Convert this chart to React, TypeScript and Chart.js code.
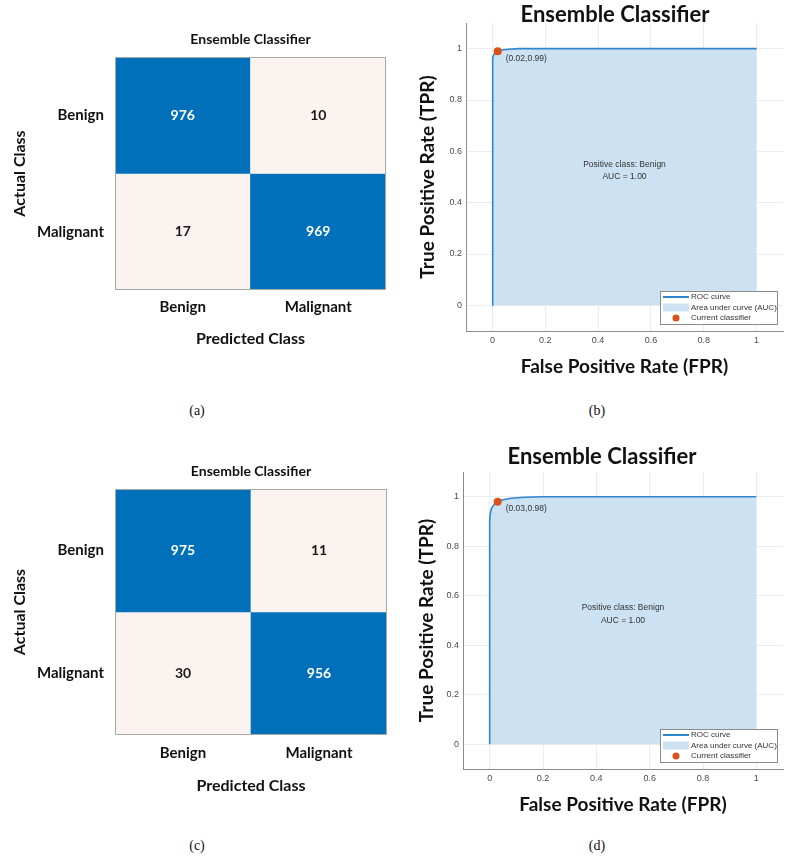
import React, { useEffect, useRef } from "react";
import { Chart, registerables } from "chart.js";

Chart.register(...registerables);

// ---------------- data ----------------
const CLASSES = ["Benign", "Malignant"];
// rows = actual class, columns = predicted class
const CM_A = [
  [976, 10],
  [17, 969],
];
const CM_C = [
  [975, 11],
  [30, 956],
];

const ROC_B_FPR = [0, 0, 0.002, 0.006, 0.012, 0.02, 0.035, 0.06, 0.1, 1];
const ROC_B_TPR = [0, 0.94, 0.965, 0.978, 0.986, 0.99, 0.995, 0.998, 1, 1];
const OP_B = { fpr: 0.02, tpr: 0.99 };
const AUC_B = 1.0;

const ROC_D_FPR = [0, 0, 0.002, 0.006, 0.012, 0.02, 0.03, 0.05, 0.08, 0.13, 0.2, 1];
const ROC_D_TPR = [0, 0.9, 0.93, 0.95, 0.962, 0.972, 0.98, 0.988, 0.994, 0.998, 1, 1];
const OP_D = { fpr: 0.03, tpr: 0.98 };
const AUC_D = 1.0;

const AXIS_TICKS = [0, 0.2, 0.4, 0.6, 0.8, 1];
const POSITIVE_CLASS = "Benign";
const CHART_TITLE = "Ensemble Classifier";
const CAPTIONS = ["(a)", "(b)", "(c)", "(d)"];

// ---------------- styles ----------------
const BOLD = "Lato, 'Open Sans', sans-serif";
const HELV = "'Liberation Sans', Arial, sans-serif";
const BLUE = "#0070BA";
const LIGHT = "#FAF3F0";
const CURVE = "#2F86CF";
const AREA = "#CCE2F2";
const ORANGE = "#D95319";

type CMLayout = {
  left: number; top: number; width: number; height: number;
  padRight: number; yWidth: number; xHeight: number;
  titlePadTop: number; titlePadBottom: number;
  xTitlePad: number; yTitlePad: number; xTickPad: number; yTickPad: number;
};

type RocLayout = {
  left: number; top: number; width: number; height: number;
  padLeft: number; padRight: number; yWidth: number; xHeight: number;
  titlePadTop: number; titlePadBottom: number;
  xTitlePad: number; yTitlePad: number; xTickPad: number; yTickPad: number;
};

const cellTextPlugin = {
  id: "cellText",
  afterDatasetsDraw(chart: any) {
    const ctx = chart.ctx;
    ctx.save();
    ctx.font = `bold 14px ${BOLD}`;
    ctx.textAlign = "center";
    ctx.textBaseline = "middle";
    chart.data.datasets.forEach((ds: any, i: number) => {
      const meta = chart.getDatasetMeta(i);
      meta.data.forEach((el: any, j: number) => {
        const p = el.getProps(["x", "y", "base"], true);
        ctx.fillStyle = ds.textColors[j];
        ctx.fillText(String(ds.values[j]), p.x, (p.y + p.base) / 2);
      });
    });
    const a = chart.chartArea;
    ctx.strokeStyle = "#A8A8A8";
    ctx.lineWidth = 1;
    ctx.strokeRect(a.left + 0.5, a.top + 0.5, a.right - a.left - 1, a.bottom - a.top - 1);
    ctx.restore();
  },
};

function ConfusionChart({ matrix, L }: { matrix: number[][]; L: CMLayout }) {
  const ref = useRef<HTMLCanvasElement>(null);
  useEffect(() => {
    const n = CLASSES.length;
    const datasets = matrix.map((row, i) => {
      const sum = row.reduce((s, v) => s + v, 0);
      const hi = row.map((v) => v / sum > 0.5);
      return {
        label: CLASSES[i],
        data: row.map(() => [n - 1 - i, n - i]),
        values: row,
        backgroundColor: hi.map((h) => (h ? BLUE : LIGHT)),
        textColors: hi.map((h) => (h ? "#ffffff" : "#1a1a1a")),
        grouped: false,
        barPercentage: 1,
        categoryPercentage: 1,
        borderWidth: 0,
      };
    });
    const chart = new Chart(ref.current as HTMLCanvasElement, {
      type: "bar",
      data: { labels: CLASSES, datasets: datasets as any },
      options: {
        responsive: false,
        animation: false,
        events: [],
        layout: { padding: { left: 0, right: L.padRight, top: 0, bottom: 0 } },
        plugins: {
          legend: { display: false },
          tooltip: { enabled: false },
          title: {
            display: true,
            text: CHART_TITLE,
            fullSize: false,
            color: "#111",
            font: { family: BOLD, size: 14, weight: "bold" },
            padding: { top: L.titlePadTop, bottom: L.titlePadBottom },
          },
        },
        scales: {
          x: {
            type: "category",
            offset: true,
            grid: { display: false, drawTicks: false },
            border: { display: false },
            ticks: { color: "#111", font: { family: BOLD, size: 15, weight: "bold" }, padding: L.xTickPad },
            title: {
              display: true,
              text: "Predicted Class",
              color: "#111",
              font: { family: BOLD, size: 16, weight: "bold" },
              padding: { top: 0, bottom: L.xTitlePad },
            },
            afterFit: (s: any) => { s.height = L.xHeight; },
          },
          y: {
            type: "linear",
            min: 0,
            max: n,
            grid: { display: false, drawTicks: false },
            border: { display: false },
            afterBuildTicks: (s: any) => {
              s.ticks = CLASSES.map((_, k) => ({ value: k + 0.5 }));
            },
            ticks: {
              color: "#111",
              font: { family: BOLD, size: 15, weight: "bold" },
              padding: L.yTickPad,
              callback: (v: any) => CLASSES[n - 1 - Math.floor(Number(v))],
            },
            title: {
              display: true,
              text: "Actual Class",
              color: "#111",
              font: { family: BOLD, size: 16, weight: "bold" },
              padding: { top: L.yTitlePad, bottom: 0 },
            },
            afterFit: (s: any) => { s.width = L.yWidth; },
          },
        },
      } as any,
      plugins: [cellTextPlugin],
    });
    return () => chart.destroy();
  }, [matrix, L]);
  return (
    <canvas
      ref={ref}
      width={L.width}
      height={L.height}
      style={{ position: "absolute", left: L.left, top: L.top, width: L.width, height: L.height }}
    />
  );
}

function RocChart({
  fpr, tpr, op, auc, L,
}: {
  fpr: number[]; tpr: number[]; op: { fpr: number; tpr: number }; auc: number; L: RocLayout;
}) {
  const ref = useRef<HTMLCanvasElement>(null);
  useEffect(() => {
    const pts = fpr.map((x, i) => ({ x, y: tpr[i] }));
    const textPlugin = {
      id: "rocText",
      afterDatasetsDraw(chart: any) {
        const { ctx, chartArea } = chart;
        const xs = chart.scales.x;
        const ys = chart.scales.y;
        ctx.save();
        ctx.fillStyle = "#333";
        ctx.font = `8.5px ${HELV}`;
        ctx.textAlign = "center";
        ctx.textBaseline = "middle";
        ctx.fillText(`Positive class: ${POSITIVE_CLASS}`, xs.getPixelForValue(0.5), ys.getPixelForValue(0.55));
        ctx.fillText(`AUC = ${auc.toFixed(2)}`, xs.getPixelForValue(0.5), ys.getPixelForValue(0.5));
        const px = xs.getPixelForValue(op.fpr);
        const py = ys.getPixelForValue(op.tpr);
        ctx.textAlign = "left";
        ctx.fillText(`(${op.fpr.toFixed(2)},${op.tpr.toFixed(2)})`, px + 8, py + 7);

        // legend box (MATLAB style, lower right inside axes)
        const [areaDs, curveDs, ptDs] = chart.data.datasets;
        const w = 117;
        const h = 33;
        const x1 = chartArea.right - 6 - w;
        const y1 = chartArea.bottom - 7 - h;
        ctx.fillStyle = "#ffffff";
        ctx.fillRect(x1, y1, w, h);
        ctx.strokeStyle = "#8a8a8a";
        ctx.lineWidth = 1;
        ctx.strokeRect(x1 + 0.5, y1 + 0.5, w, h);
        const rows = [y1 + 6, y1 + 16.5, y1 + 27];
        ctx.strokeStyle = curveDs.borderColor;
        ctx.lineWidth = 2;
        ctx.beginPath();
        ctx.moveTo(x1 + 3, rows[0]);
        ctx.lineTo(x1 + 29, rows[0]);
        ctx.stroke();
        ctx.fillStyle = areaDs.backgroundColor;
        ctx.fillRect(x1 + 3, rows[1] - 4, 26, 8);
        ctx.fillStyle = ptDs.pointBackgroundColor;
        ctx.beginPath();
        ctx.arc(x1 + 16, rows[2], 3.5, 0, Math.PI * 2);
        ctx.fill();
        ctx.fillStyle = "#333";
        ctx.font = `8px ${HELV}`;
        ctx.textAlign = "left";
        ctx.fillText(curveDs.label, x1 + 31, rows[0]);
        ctx.fillText(areaDs.label, x1 + 31, rows[1]);
        ctx.fillText(ptDs.label, x1 + 31, rows[2]);
        ctx.restore();
      },
    };
    const axisCommon = (title: string, titlePad: any, tickPad: number, afterFit: (s: any) => void) => ({
      type: "linear",
      min: -0.1,
      max: 1.1,
      afterBuildTicks: (s: any) => {
        s.ticks = AXIS_TICKS.map((v) => ({ value: v }));
      },
      ticks: {
        color: "#4a4a4a",
        font: { family: HELV, size: 9 },
        padding: tickPad,
        callback: (v: any) => String(v),
      },
      grid: { color: "#ececec", lineWidth: 1, drawTicks: false },
      border: { display: true, color: "#8c8c8c", width: 1 },
      title: {
        display: true,
        text: title,
        color: "#111",
        font: { family: BOLD, size: 19, weight: "bold" },
        padding: titlePad,
      },
      afterFit,
    });
    const chart = new Chart(ref.current as HTMLCanvasElement, {
      type: "scatter",
      data: {
        datasets: [
          {
            label: "Area under curve (AUC)",
            data: pts,
            showLine: true,
            borderWidth: 0,
            borderColor: "rgba(0,0,0,0)",
            backgroundColor: AREA,
            pointRadius: 0,
            fill: "origin",
            order: 3,
          },
          {
            label: "ROC curve",
            data: pts,
            showLine: true,
            borderWidth: 1.6,
            borderColor: CURVE,
            backgroundColor: CURVE,
            pointRadius: 0,
            fill: false,
            order: 2,
          },
          {
            label: "Current classifier",
            data: [{ x: op.fpr, y: op.tpr }],
            showLine: false,
            pointRadius: 4,
            pointBackgroundColor: ORANGE,
            backgroundColor: ORANGE,
            pointBorderWidth: 0,
            order: 1,
          },
        ],
      },
      options: {
        responsive: false,
        animation: false,
        events: [],
        layout: { padding: { left: L.padLeft, right: L.padRight, top: 0, bottom: 0 } },
        plugins: {
          legend: { display: false },
          tooltip: { enabled: false },
          title: {
            display: true,
            text: CHART_TITLE,
            color: "#111",
            font: { family: BOLD, size: 22, weight: "bold" },
            padding: { top: L.titlePadTop, bottom: L.titlePadBottom },
          },
        },
        scales: {
          x: axisCommon("False Positive Rate (FPR)", { top: 0, bottom: L.xTitlePad }, L.xTickPad, (s: any) => {
            s.height = L.xHeight;
          }),
          y: axisCommon("True Positive Rate (TPR)", { top: L.yTitlePad, bottom: 0 }, L.yTickPad, (s: any) => {
            s.width = L.yWidth;
          }),
        },
      } as any,
      plugins: [textPlugin],
    });
    return () => chart.destroy();
  }, [fpr, tpr, op, auc, L]);
  return (
    <canvas
      ref={ref}
      width={L.width}
      height={L.height}
      style={{ position: "absolute", left: L.left, top: L.top, width: L.width, height: L.height }}
    />
  );
}

const LAYOUT_A: CMLayout = {
  left: 0, top: 0, width: 400, height: 360,
  padRight: 14, yWidth: 115, xHeight: 70,
  titlePadTop: 30.6, titlePadBottom: 9.6,
  xTitlePad: 11.4, yTitlePad: 10.4, xTickPad: 8, yTickPad: 11,
};
const LAYOUT_C: CMLayout = {
  left: 0, top: 430, width: 400, height: 400,
  padRight: 13, yWidth: 115, xHeight: 95,
  titlePadTop: 32.6, titlePadBottom: 9.6,
  xTitlePad: 34.4, yTitlePad: 10.4, xTickPad: 9, yTickPad: 11,
};
const LAYOUT_B: RocLayout = {
  left: 400, top: 0, width: 391, height: 400,
  padLeft: 47, padRight: 8, yWidth: 19, xHeight: 69,
  titlePadTop: 1.8, titlePadBottom: -5.2,
  xTitlePad: 21.6, yTitlePad: -30.4, xTickPad: 4, yTickPad: 4,
};
const LAYOUT_D: RocLayout = {
  left: 400, top: 430, width: 391, height: 400,
  padLeft: 21, padRight: 8, yWidth: 42, xHeight: 61,
  titlePadTop: 13.8, titlePadBottom: 1.8,
  xTitlePad: 13.6, yTitlePad: -5.4, xTickPad: 4.6, yTickPad: 4,
};

const CAPTION_POS = [
  { x: 197, y: 411 },
  { x: 597, y: 411 },
  { x: 197, y: 846 },
  { x: 597, y: 846 },
];

export default function App() {
  return (
    <div style={{ position: "absolute", left: 0, top: 0, width: 791, height: 864, background: "#fff" }}>
      <ConfusionChart matrix={CM_A} L={LAYOUT_A} />
      <RocChart fpr={ROC_B_FPR} tpr={ROC_B_TPR} op={OP_B} auc={AUC_B} L={LAYOUT_B} />
      <ConfusionChart matrix={CM_C} L={LAYOUT_C} />
      <RocChart fpr={ROC_D_FPR} tpr={ROC_D_TPR} op={OP_D} auc={AUC_D} L={LAYOUT_D} />
      {CAPTIONS.map((c, i) => (
        <div
          key={c}
          style={{
            position: "absolute",
            left: CAPTION_POS[i].x,
            top: CAPTION_POS[i].y,
            transform: "translate(-50%, -50%)",
            fontFamily: "'Liberation Serif', 'Times New Roman', serif",
            fontSize: 14,
            color: "#111",
            lineHeight: 1,
          }}
        >
          {c}
        </div>
      ))}
    </div>
  );
}
